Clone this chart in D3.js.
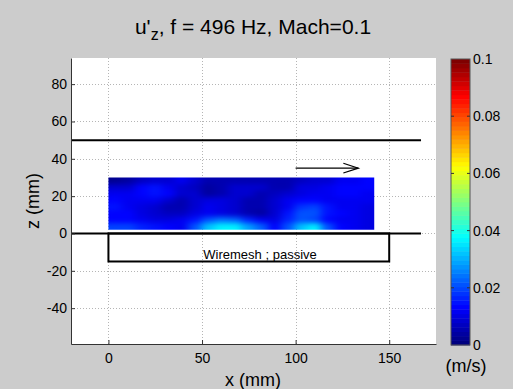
<!DOCTYPE html>
<html>
<head>
<meta charset="utf-8">
<script src="https://cdn.jsdelivr.net/npm/d3@7"></script>
<style>
  html, body { margin: 0; padding: 0; background: #cccccc; }
  svg { display: block; font-family: "Liberation Sans", Arial, Helvetica, sans-serif; }
</style>
</head>
<body>
<svg id="chart" width="513" height="389"></svg>
<script>
// ---- data ----
const xTicks = [0, 50, 100, 150];
const zTicks = [-40, -20, 0, 20, 40, 60, 80];
const cTicks = [0, 0.02, 0.04, 0.06, 0.08, 0.1];
const cTickLabels = ["0", "0.02", "0.04", "0.06", "0.08", "0.1"];
// measurement grid (mm)
const gridX0 = 0, gridX1 = 142;   // x extent of measured field
const gridZ0 = 2, gridZ1 = 30;    // z extent of measured field
// |u'_z| values (m/s), rows from top (z=30) to bottom (z=2), 20 columns from x=0 to 142
const field = [
  [0.003,0.004,0.007,0.008,0.009,0.011,0.008,0.005,0.005,0.005,0.006,0.006,0.006,0.006,0.007,0.008,0.009,0.011,0.012,0.013],
  [0.008,0.009,0.013,0.015,0.012,0.009,0.007,0.004,0.005,0.008,0.009,0.009,0.006,0.006,0.010,0.010,0.011,0.013,0.014,0.014],
  [0.011,0.011,0.014,0.015,0.013,0.009,0.008,0.004,0.006,0.009,0.008,0.005,0.007,0.009,0.010,0.011,0.012,0.013,0.013,0.012],
  [0.014,0.012,0.011,0.011,0.009,0.005,0.008,0.010,0.010,0.009,0.005,0.006,0.009,0.011,0.013,0.013,0.011,0.011,0.011,0.011],
  [0.015,0.012,0.010,0.009,0.006,0.005,0.009,0.012,0.010,0.009,0.006,0.006,0.009,0.012,0.018,0.019,0.015,0.011,0.011,0.010],
  [0.013,0.013,0.010,0.008,0.007,0.007,0.010,0.011,0.010,0.009,0.006,0.004,0.009,0.015,0.021,0.021,0.015,0.013,0.011,0.010],
  [0.014,0.014,0.012,0.010,0.010,0.012,0.015,0.021,0.024,0.023,0.016,0.012,0.010,0.017,0.021,0.019,0.013,0.011,0.011,0.010],
  [0.019,0.019,0.017,0.015,0.013,0.012,0.021,0.032,0.036,0.036,0.029,0.022,0.013,0.021,0.032,0.037,0.021,0.013,0.011,0.010]
];
// geometry of the set-up (mm)
const wallZ = [50, 0];            // horizontal walls
const wallX = [-20, 167];
const meshBox = {x0: 0, x1: 150, z0: 0, z1: -15};
const meshLabel = "Wiremesh ; passive";
const arrowX = [100, 133.5], arrowZ = 35;

// ---- scales ----
const svg = d3.select("#chart");
const xs = d3.scaleLinear().domain([-20, 175]).range([71, 436]);
const ys = d3.scaleLinear().domain([-59.2, 94]).range([344, 58]);
const cMin = 0, cMax = 0.1, nColors = 64;
function jet(t) {
  const c = v => Math.max(0, Math.min(1, v));
  const r = c(1.5 - Math.abs(4 * t - 3));
  const g = c(1.5 - Math.abs(4 * t - 2));
  const b = c(1.5 - Math.abs(4 * t - 1));
  return d3.rgb(r * 255, g * 255, b * 255).toString();
}
function colorOf(v) {
  let i = Math.floor((v - cMin) / (cMax - cMin) * nColors);
  i = Math.max(0, Math.min(nColors - 1, i));
  return jet(i / (nColors - 1));
}

// ---- plot area ----
svg.append("rect").attr("x", xs.range()[0]).attr("y", ys.range()[1])
  .attr("width", xs.range()[1] - xs.range()[0]).attr("height", ys.range()[0] - ys.range()[1])
  .attr("fill", "#ffffff");

// grid
const grid = svg.append("g").attr("stroke", "#b5b5b5").attr("stroke-width", 1).attr("stroke-dasharray", "1,2");
grid.selectAll("line.gx").data(xTicks).join("line")
  .attr("x1", d => Math.round(xs(d)) + 0.5).attr("x2", d => Math.round(xs(d)) + 0.5)
  .attr("y1", ys.range()[1]).attr("y2", ys.range()[0]);
grid.selectAll("line.gy").data(zTicks).join("line")
  .attr("y1", d => Math.round(ys(d)) + 0.5).attr("y2", d => Math.round(ys(d)) + 0.5)
  .attr("x1", xs.range()[0]).attr("x2", xs.range()[1]);

// heatmap
const defs = svg.append("defs");
const filt = defs.append("filter").attr("id", "smooth")
  .attr("x", "-5%").attr("y", "-10%").attr("width", "110%").attr("height", "120%")
  .attr("color-interpolation-filters", "sRGB");
filt.append("feGaussianBlur").attr("stdDeviation", "4.5 2.6");
filt.append("feComponentTransfer").append("feFuncA").attr("type", "linear").attr("slope", 60).attr("intercept", 0);
defs.append("clipPath").attr("id", "hmclip").append("rect")
  .attr("x", xs(gridX0)).attr("y", ys(gridZ1))
  .attr("width", xs(gridX1) - xs(gridX0)).attr("height", ys(gridZ0) - ys(gridZ1));

const nRows = field.length, nCols = field[0].length;
const dx = (gridX1 - gridX0) / nCols, dz = (gridZ1 - gridZ0) / nRows;
const cells = [];
field.forEach((row, r) => row.forEach((v, c) => cells.push({r, c, v})));
const hmOuter = svg.append("g").attr("clip-path", "url(#hmclip)");
const hm = hmOuter.append("g").attr("filter", "url(#smooth)");
hm.selectAll("rect").data(cells).join("rect")
  .attr("x", d => xs(gridX0 + d.c * dx))
  .attr("y", d => ys(gridZ1 - d.r * dz))
  .attr("width", d => xs(gridX0 + (d.c + 1) * dx) - xs(gridX0 + d.c * dx) + 0.5)
  .attr("height", d => ys(gridZ1 - (d.r + 1) * dz) - ys(gridZ1 - d.r * dz) + 0.5)
  .attr("fill", d => colorOf(d.v));

// walls
svg.selectAll("line.wall").data(wallZ).join("line")
  .attr("x1", xs(wallX[0])).attr("x2", xs(wallX[1]))
  .attr("y1", d => ys(d)).attr("y2", d => ys(d))
  .attr("stroke", "#000").attr("stroke-width", 2);
// wiremesh box
svg.append("rect")
  .attr("x", xs(meshBox.x0)).attr("y", ys(meshBox.z0))
  .attr("width", xs(meshBox.x1) - xs(meshBox.x0)).attr("height", ys(meshBox.z1) - ys(meshBox.z0))
  .attr("fill", "none").attr("stroke", "#000").attr("stroke-width", 2);
svg.append("text").attr("x", xs(81)).attr("y", ys(-13.8))
  .attr("text-anchor", "middle").attr("font-size", 13).attr("fill", "#000").text(meshLabel);

// flow arrow
const ar = svg.append("g").attr("stroke", "#000").attr("stroke-width", 1.2).attr("fill", "none");
ar.append("line").attr("x1", xs(arrowX[0])).attr("x2", xs(arrowX[1]))
  .attr("y1", ys(arrowZ)).attr("y2", ys(arrowZ));
ar.append("polyline").attr("points", [
  [xs(arrowX[1] - 8), ys(arrowZ + 2.6)], [xs(arrowX[1]), ys(arrowZ)], [xs(arrowX[1] - 8), ys(arrowZ - 2.6)]
].map(p => p.join(",")).join(" "));

// axes
const fmt = d => String(d);
const axX = svg.append("g").attr("transform", `translate(0,${ys.range()[0]})`)
  .call(d3.axisBottom(xs).tickValues(xTicks).tickFormat(fmt).tickSizeInner(-4).tickSizeOuter(0).tickPadding(9));
const axY = svg.append("g").attr("transform", `translate(${xs.range()[0]},0)`)
  .call(d3.axisLeft(ys).tickValues(zTicks).tickFormat(fmt).tickSizeInner(-4).tickSizeOuter(0).tickPadding(4));
[axX, axY].forEach(a => {
  a.selectAll("text").attr("font-size", 14).attr("fill", "#000").attr("font-family", "Liberation Sans, Arial, sans-serif");
  a.selectAll("path.domain").attr("stroke", "#333");
  a.selectAll(".tick line").attr("stroke", "#333");
});

// axis labels
svg.append("text").attr("x", 253).attr("y", 386).attr("text-anchor", "middle")
  .attr("font-size", 18).attr("fill", "#000").text("x (mm)");
svg.append("text").attr("transform", "translate(39,201) rotate(-90)").attr("text-anchor", "middle")
  .attr("font-size", 18).attr("fill", "#000").text("z (mm)");

// title
const title = svg.append("text").attr("x", 253).attr("y", 34).attr("text-anchor", "middle")
  .attr("font-size", 21).attr("fill", "#000");
title.append("tspan").text("u'");
title.append("tspan").attr("font-size", 16).attr("dy", 6).text("z");
title.append("tspan").attr("dy", -6).text(", f = 496 Hz, Mach=0.1");

// colorbar
const cs = d3.scaleLinear().domain([cMin, cMax]).range([345, 59]);
const cbX = 451, cbW = 19;
const bands = d3.range(nColors);
svg.append("g").selectAll("rect").data(bands).join("rect")
  .attr("x", cbX).attr("width", cbW)
  .attr("y", i => cs(cMin + (i + 1) * (cMax - cMin) / nColors))
  .attr("height", i => cs(cMin + i * (cMax - cMin) / nColors) - cs(cMin + (i + 1) * (cMax - cMin) / nColors) + 0.4)
  .attr("fill", i => jet(i / (nColors - 1)));
svg.append("rect").attr("x", cbX).attr("y", cs(cMax)).attr("width", cbW).attr("height", cs(cMin) - cs(cMax))
  .attr("fill", "none").attr("stroke", "#555").attr("stroke-width", 1);
const cbt = svg.append("g");
cbt.selectAll("line.l").data(cTicks.slice(1, -1)).join("line")
  .attr("x1", cbX).attr("x2", cbX + 3).attr("y1", d => cs(d)).attr("y2", d => cs(d)).attr("stroke", "#333");
cbt.selectAll("line.r").data(cTicks.slice(1, -1)).join("line")
  .attr("x1", cbX + cbW - 3).attr("x2", cbX + cbW).attr("y1", d => cs(d)).attr("y2", d => cs(d)).attr("stroke", "#333");
cbt.selectAll("text").data(cTicks).join("text")
  .attr("x", cbX + cbW + 3).attr("y", d => cs(d)).attr("dy", "0.35em")
  .attr("font-size", 14).attr("fill", "#000").text((d, i) => cTickLabels[i]);
svg.append("text").attr("x", 466).attr("y", 372).attr("text-anchor", "middle")
  .attr("font-size", 18).attr("fill", "#000").text("(m/s)");
</script>
</body>
</html>
